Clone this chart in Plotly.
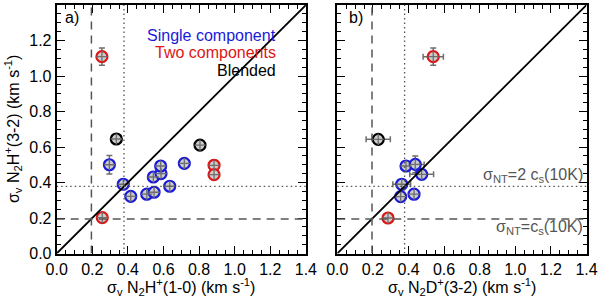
import plotly.graph_objects as go

# ---------------- data ----------------
# Panel a) : x = sigma_v N2H+(1-0), y = sigma_v N2H+(3-2)
a_single_x = [0.296, 0.374, 0.416, 0.506, 0.547, 0.543, 0.586, 0.584, 0.635, 0.717]
a_single_y = [0.500, 0.390, 0.322, 0.334, 0.345, 0.431, 0.450, 0.493, 0.379, 0.508]
a_single_ey = [0.052, 0.015, 0.015, 0.015, 0.015, 0.015, 0.015, 0.015, 0.015, 0.015]

a_two_x = [0.254, 0.256, 0.884, 0.884]
a_two_y = [1.109, 0.202, 0.497, 0.444]
a_two_ey = [0.049, 0.015, 0.030, 0.015]

a_blend_x = [0.335, 0.805]
a_blend_y = [0.645, 0.611]

# Panel b) : x = sigma_v N2D+(3-2), y = sigma_v N2H+(3-2)
b_single_x = [0.386, 0.438, 0.474, 0.362, 0.356, 0.431]
b_single_y = [0.493, 0.502, 0.446, 0.390, 0.320, 0.334]
b_single_ex = [0.015, 0.050, 0.067, 0.050, 0.015, 0.015]
b_single_ey = [0.015, 0.047, 0.015, 0.015, 0.015, 0.015]

b_two_x = [0.539, 0.285]
b_two_y = [1.109, 0.200]
b_two_ex = [0.057, 0.030]
b_two_ey = [0.049, 0.015]

b_blend_x = [0.230]
b_blend_y = [0.643]
b_blend_ex = [0.068]

# reference levels
cs_level = 0.195      # sigma_NT = c_s(10K)
cs2_level = 0.378     # sigma_NT = 2 c_s(10K)
axis_range = [0.0, 1.4]
tick_vals = [0.0, 0.2, 0.4, 0.6, 0.8, 1.0, 1.2, 1.4]
tick_text = ["0.0", "0.2", "0.4", "0.6", "0.8", "1.0", "1.2", "1.4"]

# ---------------- style ----------------
BLUE = "#1a1ad8"
RED = "#dd1616"
BLACK = "#000000"
GRAY = "#6e6e6e"
FILL = "#cccccc"
FONT = "Liberation Sans, Arial, Helvetica, sans-serif"

fig = go.Figure()


def add_group(x, y, color, xa, ya, ex=None, ey=None):
    kw = {}
    if ex is not None:
        kw["error_x"] = dict(type="data", array=ex, color=GRAY, thickness=1.5, width=3)
    if ey is not None:
        kw["error_y"] = dict(type="data", array=ey, color=GRAY, thickness=1.5, width=3)
    fig.add_trace(go.Scatter(
        x=x, y=y, mode="markers", xaxis=xa, yaxis=ya, showlegend=False,
        marker=dict(symbol="circle", size=11, color=FILL,
                    line=dict(color=color, width=2.2)),
        hoverinfo="skip", **kw))
    fig.add_trace(go.Scatter(
        x=x, y=y, mode="markers", xaxis=xa, yaxis=ya, showlegend=False,
        marker=dict(symbol="cross-thin-open", size=8, color=GRAY,
                    line=dict(color=GRAY, width=1.3)),
        hoverinfo="skip"))


# reference lines (as shapes in data coordinates)
for xr, yr in (("x", "y"), ("x2", "y2")):
    fig.add_shape(type="line", xref=xr, yref=yr, x0=axis_range[0], y0=axis_range[0],
                  x1=axis_range[1], y1=axis_range[1], line=dict(color=BLACK, width=1.8))
    fig.add_shape(type="line", xref=xr, yref=yr, x0=cs_level, x1=cs_level,
                  y0=axis_range[0], y1=axis_range[1],
                  line=dict(color="#555555", width=1.5, dash="8px,6px"))
    fig.add_shape(type="line", xref=xr, yref=yr, y0=cs_level, y1=cs_level,
                  x0=axis_range[0], x1=axis_range[1],
                  line=dict(color="#555555", width=1.5, dash="8px,6px"))
    fig.add_shape(type="line", xref=xr, yref=yr, x0=cs2_level, x1=cs2_level,
                  y0=axis_range[0], y1=axis_range[1],
                  line=dict(color="#555555", width=1.3, dash="1.5px,3px"))
    fig.add_shape(type="line", xref=xr, yref=yr, y0=cs2_level, y1=cs2_level,
                  x0=axis_range[0], x1=axis_range[1],
                  line=dict(color="#555555", width=1.3, dash="1.5px,3px"))

# panel a
add_group(a_single_x, a_single_y, BLUE, "x", "y", ey=a_single_ey)
add_group(a_two_x, a_two_y, RED, "x", "y", ey=a_two_ey)
add_group(a_blend_x, a_blend_y, BLACK, "x", "y")
# panel b
add_group(b_single_x, b_single_y, BLUE, "x2", "y2", ex=b_single_ex, ey=b_single_ey)
add_group(b_two_x, b_two_y, RED, "x2", "y2", ex=b_two_ex, ey=b_two_ey)
add_group(b_blend_x, b_blend_y, BLACK, "x2", "y2", ex=b_blend_ex)

axis_common = dict(
    range=axis_range, tickvals=tick_vals, ticktext=tick_text,
    ticks="inside", ticklen=8, tickwidth=1.3, tickcolor=BLACK,
    showline=True, linecolor=BLACK, linewidth=2, mirror="allticks",
    showgrid=False, zeroline=False, automargin=False,
    tickfont=dict(family=FONT, size=16, color=BLACK),
    minor=dict(ticks="inside", ticklen=4, tickwidth=1, tickcolor=BLACK,
               dtick=0.05, tick0=0, showgrid=False),
)

fig.update_layout(
    width=600, height=298,
    margin=dict(l=0, r=0, t=0, b=0, autoexpand=False),
    paper_bgcolor="white", plot_bgcolor="white",
    font=dict(family=FONT, size=15, color=BLACK),
    xaxis=dict(domain=[56.7 / 600, 305.9 / 600], anchor="y", **axis_common),
    yaxis=dict(domain=[(298 - 253.5) / 298, (298 - 5) / 298], anchor="x", **axis_common),
    xaxis2=dict(domain=[337.3 / 600, 586.5 / 600], anchor="y2", **axis_common),
    yaxis2=dict(domain=[(298 - 253.5) / 298, (298 - 5) / 298], anchor="x2",
                showticklabels=False, **axis_common),
)

ann = [
    dict(text="a)", x=0.084, y=1.327, xref="x", yref="y", showarrow=False,
         font=dict(size=16, color=BLACK), xanchor="center", yanchor="middle"),
    dict(text="b)", x=0.105, y=1.33, xref="x2", yref="y2", showarrow=False,
         font=dict(size=16, color=BLACK), xanchor="center", yanchor="middle"),
    dict(text="Single component", x=1.245, y=1.23, xref="x", yref="y", showarrow=False,
         font=dict(size=16, color=BLUE), xanchor="right", yanchor="middle"),
    dict(text="Two components", x=1.245, y=1.13, xref="x", yref="y", showarrow=False,
         font=dict(size=16, color=RED), xanchor="right", yanchor="middle"),
    dict(text="Blended", x=1.245, y=1.03, xref="x", yref="y", showarrow=False,
         font=dict(size=16, color=BLACK), xanchor="right", yanchor="middle"),
    dict(text="σ<sub>NT</sub>=2 c<sub>s</sub>(10K)", x=1.39, y=0.44, xref="x2", yref="y2",
         showarrow=False, font=dict(size=16, color="#555555"), xanchor="right", yanchor="middle"),
    dict(text="σ<sub>NT</sub>=c<sub>s</sub>(10K)", x=1.39, y=0.145, xref="x2", yref="y2",
         showarrow=False, font=dict(size=16, color="#555555"), xanchor="right", yanchor="middle"),
    dict(text="σ<sub>v</sub> N<sub>2</sub>H<sup>+</sup>(1-0) (km s<sup>-1</sup>)",
         x=181 / 600, y=(298 - 287) / 298, xref="paper", yref="paper", showarrow=False,
         font=dict(size=16, color=BLACK), xanchor="center", yanchor="middle"),
    dict(text="σ<sub>v</sub> N<sub>2</sub>D<sup>+</sup>(3-2) (km s<sup>-1</sup>)",
         x=462 / 600, y=(298 - 287) / 298, xref="paper", yref="paper", showarrow=False,
         font=dict(size=16, color=BLACK), xanchor="center", yanchor="middle"),
    dict(text="σ<sub>v</sub> N<sub>2</sub>H<sup>+</sup>(3-2) (km s<sup>-1</sup>)",
         x=13 / 600, y=(298 - 129) / 298, xref="paper", yref="paper", showarrow=False,
         textangle=-90, font=dict(size=16, color=BLACK), xanchor="center", yanchor="middle"),
]
fig.update_layout(annotations=ann)

fig.write_html(
    "out.html",
    config={"displayModeBar": False},
    post_script="document.body.style.margin='0';document.body.style.overflow='hidden';",
)
